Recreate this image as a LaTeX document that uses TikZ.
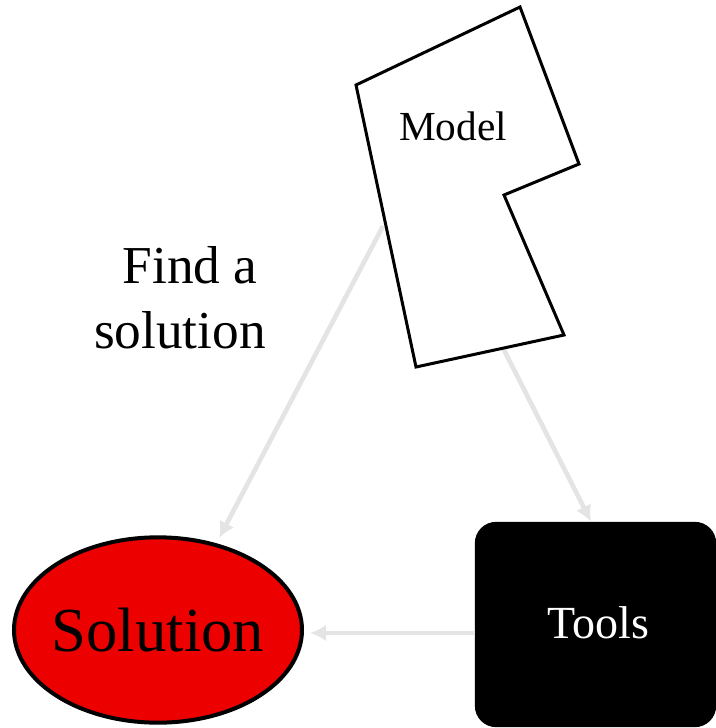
\documentclass[tikz,border=0pt]{standalone}
\usepackage{fontspec}
\setmainfont{Liberation Serif}
\usetikzlibrary{shapes.geometric,arrows.meta}
\definecolor{linkgray}{RGB}{228,228,228}
\definecolor{solred}{RGB}{236,0,0}
\tikzset{
  link/.style={draw=linkgray, line width=3.5pt, -{Latex[length=12pt,width=12.5pt]}},
  outline/.style={draw=black, line width=2.25pt, line join=miter, fill=white},
}
\begin{document}
\begin{tikzpicture}[x=0.75pt, y=-0.75pt]
\useasboundingbox (0,0) rectangle (716,728);

% solution ellipse
\node (sol) [ellipse, draw=black, line width=3pt, fill=solred,
  minimum width=216pt, minimum height=139pt, inner xsep=-3.6pt, inner ysep=0pt,
  font=\fontsize{47}{56}\selectfont] at (158,630) {Solution};

% tools box
\node (tools) [rectangle, rounded corners=16pt, fill=black, text=white,
  minimum width=181pt, minimum height=154pt, inner sep=0pt,
  font=\fontsize{34.5}{41}\selectfont] at (595.5,624.5)
  {\raisebox{3pt}{\hspace*{4.5pt}Tools}};

% attachment points on the model outline
\coordinate (mA) at (383,226);
\coordinate (mB) at (503,348);

% connectors (drawn under the model outline)
\draw[link] (mA) -- ([xshift=2pt,yshift=4pt]sol.56);
\draw[link] (mB) -- ([xshift=-3.4pt]tools.north);
\draw[link] ([yshift=-2.2pt]sol.east -| tools.west) -- ([yshift=-2.2pt,xshift=4.5pt]sol.east);

% model outline
\draw[outline] (520,7) -- (579,164) -- (504,195) -- (564,335)
  -- (416,367) -- (356,85) -- cycle;
\node (model) [anchor=base, inner sep=0pt, font=\fontsize{31}{37}\selectfont]
  at (453,140) {Model};

% annotation
\node (find) [anchor=base, inner sep=0pt, align=center,
  font=\fontsize{40}{48.75}\selectfont] at (180,348)
  {\hspace*{0.38em}Find a\\solution};
\end{tikzpicture}
\end{document}
